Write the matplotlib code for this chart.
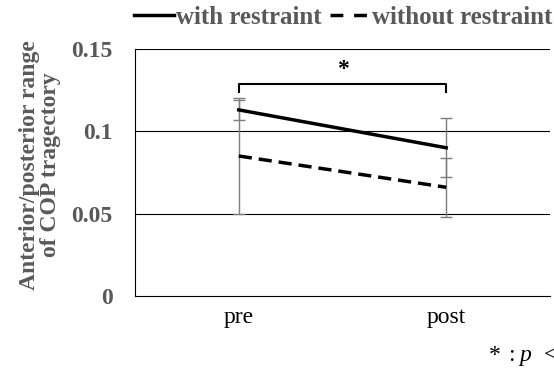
import numpy as np
import matplotlib.pyplot as plt
from matplotlib.lines import Line2D

categories = ['pre', 'post']
with_restraint = [0.113, 0.090]
with_err = [0.006, 0.018]
without_restraint = [0.085, 0.066]
without_err = [0.035, 0.018]
yticks = [0, 0.05, 0.1, 0.15]
ytick_labels = ['0', '0.05', '0.1', '0.15']

plt.rcParams['font.family'] = ['Liberation Serif', 'DejaVu Serif']
grey = '#595959'
fs = 17
dash = (0, (3.8, 2))

fig = plt.figure(figsize=(5.54, 3.76), dpi=100)
ax = fig.add_axes([0.2437, 0.2128, 0.749, 0.657])

x = np.arange(len(categories))
ax.errorbar(x, without_restraint, yerr=without_err, color='black', lw=2.5,
            linestyle=dash, ecolor='#7f7f7f', elinewidth=1, capsize=4,
            capthick=1, zorder=3)
ax.errorbar(x, with_restraint, yerr=with_err, color='black', lw=2.5,
            ecolor='#7f7f7f', elinewidth=1, capsize=4, capthick=1, zorder=4)

ax.set_xlim(-0.5, 1.5)
ax.set_ylim(0, 0.15)
ax.set_yticks(yticks)
ax.set_yticklabels(ytick_labels, fontsize=fs, fontweight='bold', color=grey)
ax.set_xticks(x)
ax.set_xticklabels(categories, fontsize=fs)
ax.tick_params(length=0, pad=8)
ax.tick_params(axis='y', pad=16)
for yv in yticks[1:]:
    ax.axhline(yv, color='black', lw=0.8, zorder=1)
for s in ['top', 'right']:
    ax.spines[s].set_visible(False)
ax.spines['left'].set_linewidth(0.8)
ax.spines['bottom'].set_linewidth(0.8)

fig.text(40 / 554, 1 - 165 / 376, 'Anterior/posterior range\nof COP tragectory',
         fontsize=fs, fontweight='bold', color=grey, rotation=90,
         ha='center', va='center', multialignment='center', linespacing=1.0)

# significance bracket
yb = 0.129
ax.plot([0, 0, 1, 1], [yb - 0.005, yb, yb, yb - 0.005], color='black', lw=1.5,
        clip_on=False)
ax.text(0.5, yb + 0.002, '*', ha='center', va='bottom', fontsize=fs,
        fontweight='bold')

handles = [Line2D([], [], color='black', lw=2.5),
           Line2D([], [], color='black', lw=2.5, linestyle=(0, (3.7, 3.1)))]
fig.legend(handles, ['with restraint', 'without restraint'], loc='upper right',
           bbox_to_anchor=(1.037, 1.045), ncol=2, frameon=False,
           handlelength=1.6, handletextpad=0.08, columnspacing=0.3,
           prop={'weight': 'bold', 'size': 18}, labelcolor=grey)

# footnote (cut off at the right edge as in the original)
fy = 0.04
fig.text(489 / 554, fy, '*', fontsize=fs, ha='left', va='baseline')
fig.text(508 / 554, fy, ':', fontsize=fs, ha='left', va='baseline')
fig.text(519 / 554, fy, 'p', fontsize=fs, style='italic', ha='left',
         va='baseline')
fig.text(544 / 554, fy, '<', fontsize=fs, ha='left', va='baseline')

fig.savefig('out.png', dpi=100)
